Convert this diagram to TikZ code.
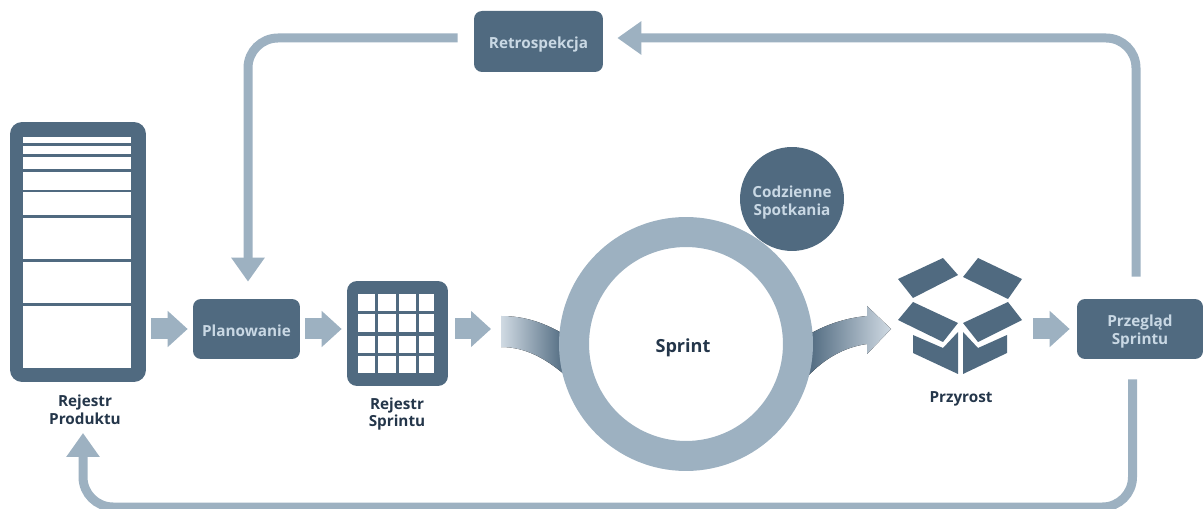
\documentclass[tikz,border=0pt]{standalone}
\usepackage{fontspec}
\setmainfont{Open Sans}
\usetikzlibrary{arrows.meta,fadings,positioning}
\definecolor{slate}{HTML}{506A80}
\definecolor{pale}{HTML}{9DB1C1}
\definecolor{paler}{HTML}{D0DAE3}
\definecolor{inklabel}{HTML}{24364A}
\definecolor{boxtext}{HTML}{C9D8E4}
\newcommand{\dropstrut}[1]{\rule{0pt}{#1pt}}
\tikzset{
  stagebox/.style={fill=slate,rounded corners=.16cm,text=boxtext,font=\bfseries\fontsize{8.7}{10.2}\selectfont,align=center,inner sep=0pt},
  caption/.style={text=inklabel,font=\bfseries\fontsize{8.7}{10.2}\selectfont,align=center,inner sep=0pt},
  loopline/.style={draw=pale,line width=.18cm,rounded corners=.6cm},
  looptip/.style={-{Triangle[length=.48cm,width=.64cm]}},
  stubarrow/.style={draw=pale,line width=.42cm,-{Triangle[length=.4cm,width=.7cm]}},
}
\begin{document}
\begin{tikzpicture}[x=.02cm,y=-.02cm]
\useasboundingbox (0,0) rectangle (1203,509);
% product backlog
\node[fill=slate,rounded corners=.24cm,minimum width=2.72cm,minimum height=5.2cm,inner sep=0pt] (backlog) at (78,252) {};
\foreach \ytop/\ybot in {137/143,146/154,157/169,172/190,192/215,218/259,262/303,306/368}
  \fill[white] (23,\ytop) rectangle (131,\ybot);
\node[caption] (backloglabel) at (85,410) {Rejestr\\Produktu};
% stages
\node[stagebox,minimum width=2.14cm,minimum height=1.2cm] (plan) at (246.5,329) {\dropstrut{8.5}Planowanie};
\node[stagebox,minimum width=2.58cm,minimum height=1.22cm] (retro) at (538.5,41.5) {\dropstrut{10}Retrospekcja};
\node[stagebox,minimum width=2.52cm,minimum height=1.2cm] (review) at (1140,329) {\dropstrut{9.5}Przegląd\\Sprintu};
% sprint backlog
\node[fill=slate,rounded corners=.2cm,minimum width=2.02cm,minimum height=2.1cm,inner sep=0pt] (grid) at (397.5,333.5) {};
\foreach \xa/\xb in {358/375,378/396,399/416,419/434}
  \foreach \ya/\yb in {294/311,314/332,336/353,356/373}
    \fill[white] (\xa,\ya) rectangle (\xb,\yb);
\node[caption] (gridlabel) at (397,414) {Rejestr\\Sprintu};
% curved arrows
\fill[left color=paler,right color=slate] (501,316) .. controls (525,316) and (545,323) .. (565,335)
  -- (565,375) .. controls (545,358) and (525,347) .. (501,347) -- cycle;
\fill[left color=slate,right color=paler] (808,335) .. controls (825,325) and (845,318) .. (867,316)
  -- (867,306) -- (891,329) -- (867,354) -- (867,344) .. controls (845,347) and (825,358) .. (808,376) -- cycle;
% sprint
\node[circle,fill=slate,minimum size=2.08cm,inner sep=0pt,text=boxtext,font=\bfseries\fontsize{8.7}{10.2}\selectfont,align=center] (daily) at (792,199) {\dropstrut{11}Codzienne\\Spotkania};
\node[circle,draw=pale,line width=.6cm,fill=white,minimum size=4.48cm,inner sep=0pt] (sprint) at (686,344) {};
\node[caption,font=\bfseries\fontsize{10.3}{12}\selectfont] (sprintlabel) at (683,348) {Sprint};
% increment box
\fill[slate] (898,279) -- (943,258) -- (958,275) -- (913,298) -- cycle;
\fill[slate] (963,277) -- (978,258) -- (1022,279) -- (1008,299) -- cycle;
\fill[slate] (913,302) -- (958,323) -- (943,342) -- (898,320) -- cycle;
\fill[slate] (1008,302) -- (1022,320) -- (978,342) -- (963,323) -- cycle;
\fill[slate] (913,335) -- (943,348) -- (958,332) -- (958,374) -- (913,353) -- cycle;
\fill[slate] (963,332) -- (978,348) -- (1007,335) -- (1007,353) -- (963,374) -- cycle;
\coordinate (boxside) at (1022,329);
\node[caption] (boxlabel) at (961,399) {Przyrost};
% stub arrows
\coordinate (sprintin) at (501,329);
\draw[stubarrow,shorten <=.1cm,shorten >=.1cm] (backlog.east |- plan.west) -- (plan.west);
\draw[stubarrow,shorten <=.1cm,shorten >=.1cm] (plan.east) -- (grid.west |- plan.east);
\draw[stubarrow,shorten <=.14cm,shorten >=.2cm] (grid.east |- plan.east) -- (sprintin);
\draw[stubarrow,shorten <=.22cm,shorten >=.14cm] (boxside) -- (review.west);
% loops
\coordinate (retrocorner) at (248,38);
\coordinate (reviewcorner) at (1136,38);
\coordinate (backcornerr) at (1132.5,507);
\coordinate (backcornerl) at (83,507);
\coordinate (backtip) at (83,433);
\draw[loopline,looptip,shorten >=.34cm] (retro.west |- retrocorner) ++(-16,0) -- (retrocorner) -- (plan.north -| retrocorner);
\draw[loopline,looptip,shorten >=.28cm,shorten <=.44cm] (review.north -| reviewcorner) -- (reviewcorner) -- (retro.east |- reviewcorner);
\draw[loopline,looptip,shorten <=.4cm] (backcornerr |- review.south) -- (backcornerr) -- (backcornerl) -- (backtip);
\end{tikzpicture}
\end{document}
